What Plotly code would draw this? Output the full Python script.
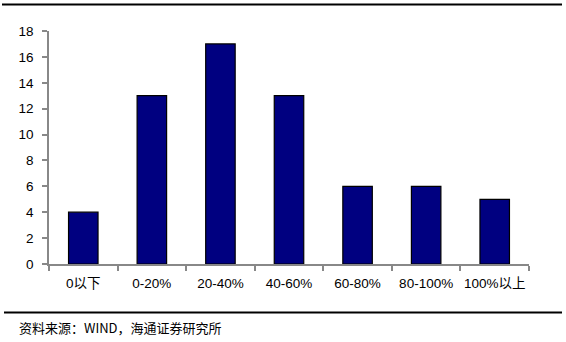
import plotly.graph_objects as go

categories = ["0以下", "0-20%", "20-40%", "40-60%", "60-80%", "80-100%", "100%以上"]
values = [4, 13, 17, 13, 6, 6, 5]
y_ticks = [0, 2, 4, 6, 8, 10, 12, 14, 16, 18]
source = "资料来源：WIND，海通证券研究所"

W, H = 566, 342
L, R, T, B = 49, 37, 31, 78
pw, ph = W - L - R, H - T - B

def px_x(p):
    return (p - L) / pw

def px_y(p):
    return (H - B - p) / ph

fig = go.Figure(go.Bar(
    x=categories, y=values,
    marker=dict(color="#000080", line=dict(color="#000000", width=1.2)),
    width=0.43,
))

fig.update_layout(
    width=W, height=H,
    margin=dict(l=L, r=R, t=T, b=B),
    paper_bgcolor="white", plot_bgcolor="white",
    showlegend=False,
    font=dict(family="Liberation Sans, Arial, sans-serif", size=13, color="#000000"),
    xaxis=dict(
        type="category", range=[-0.5, 6.5],
        showline=True, linecolor="#888888", linewidth=1.5,
        ticks="outside", tickson="boundaries", ticklen=5, tickcolor="#888888", tickwidth=1.5,
        showgrid=False, zeroline=False, tickangle=0, ticklabelstandoff=6,
        tickfont=dict(family="Liberation Sans, Noto Sans CJK SC, sans-serif", size=13.5),
    ),
    yaxis=dict(
        range=[0, 18], tickvals=y_ticks,
        showline=True, linecolor="#888888", linewidth=1.5,
        ticks="outside", ticklen=5, tickcolor="#888888", tickwidth=1.5,
        showgrid=False, zeroline=False, ticklabelstandoff=6,
        tickfont=dict(family="Liberation Sans, Arial, sans-serif", size=13.5),
    ),
    shapes=[
        dict(type="line", xref="paper", yref="paper",
             x0=px_x(2), x1=px_x(562), y0=px_y(4.5), y1=px_y(4.5),
             line=dict(color="#000000", width=2)),
        dict(type="line", xref="paper", yref="paper",
             x0=px_x(4), x1=px_x(562), y0=px_y(312.5), y1=px_y(312.5),
             line=dict(color="#000000", width=2)),
    ],
    annotations=[
        dict(text=source, xref="paper", yref="paper",
             x=px_x(17), y=px_y(327), xanchor="left", yanchor="middle",
             showarrow=False,
             font=dict(family="Noto Sans CJK SC, sans-serif", size=13, color="#000000")),
    ],
)

fig.write_html("out.html")
